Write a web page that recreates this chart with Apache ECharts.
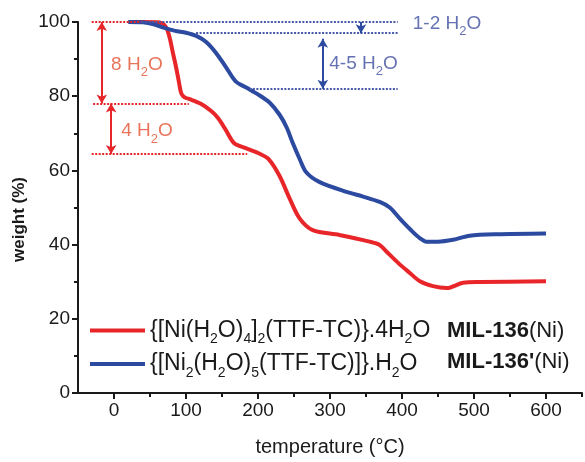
<!DOCTYPE html>
<html>
<head>
<meta charset="utf-8">
<script src="https://cdn.jsdelivr.net/npm/echarts@6/dist/echarts.min.js"></script>
<style>
  html, body { margin: 0; padding: 0; background: #fff; }
  #chart { width: 585px; height: 462px; }
</style>
</head>
<body>
<div id="chart"></div>
<script>
// TGA curves
var redTemp = [20,40,60,66,70,74,78,82,86,90,93,96,100,105,120,135,145,155,167,183,200,215,230,244,258,276,313,355,369,378,395,410,425,443,462,485,508,600];
var redWeight = [100,100,99.9,99.7,99.2,97.9,95.2,91.5,88,84,81,80,79.5,79.2,78,76,74,71,67.3,66,64.7,63,58.5,52.4,47,43.9,42.6,40.8,39.9,38.2,35,32.5,30.1,28.8,28.3,29.7,29.9,30.1];
var blueTemp = [20,40,55,70,85,100,115,128,142,155,169,185,200,216,230,240,248,258,267,285,323,345,369,383,397,412,425,434,450,471,494,532,600];
var blueWeight = [100,99.9,99.4,98.4,97.6,97.1,96.2,94.6,91.6,88,84,82.2,80.5,78.3,75,71.5,67.5,63,59.5,56.9,54.2,53,51.5,50,47,44,41.7,40.8,40.8,41.3,42.4,42.8,43];

var seriesNames = ['MIL-136(Ni)', "MIL-136'(Ni)"];
var xLabelTicks = [0,100,200,300,400,500,600];
var xMinorTicks = [50,150,250,350,450,550,650];

// water-loss guides: [fromTemp, toTemp, weight]
var redGuides = [[-31,38,100],[-29,104,78],[-31,185,64.4]];
var blueGuides = [[38,394,100],[114,394,97],[188,394,82]];
// arrows: [temp, weightFrom, weightTo]
var redArrows = [[-17,100,78],[-4,78,64.4]];
var blueArrows = [[290,95.5,82]];
var blueSmallArrow = [343,100,97];

// annotation labels
var annoTemp = [-4,10,415,299];
var annoWeight = [88.5,70.6,99.6,88.8];
var annoText = ['8 H{s|2}O','4 H{s|2}O','1-2 H{s|2}O','4-5 H{s|2}O'];
var annoColor = ['#e4502f','#e4502f','#3d4d9f','#3d4d9f'];

var formulas = {
	'MIL-136(Ni)': '{[Ni(H{s|2}O){s|4}]{s|2}(TTF-TC)}.4H{s|2}O',
	"MIL-136'(Ni)": '{[Ni{s|2}(H{s|2}O){s|5}(TTF-TC)]}.H{s|2}O'
};

var RED = '#e8262a';
var BLUE = '#2b4aa0';
var FONT = '"Liberation Sans", Arial, sans-serif';

function zip(a, b) {
	return a.map(function (v, i) { return [v, b[i]]; });
}

function guideLines(list, color) {
	return list.map(function (g) {
		return [{coord: [g[0], g[2]], symbol: 'none', lineStyle: {color: color, type: [2, 1.5], width: 2}},
			{coord: [g[1], g[2]], symbol: 'none'}];
	});
}

function arrowLines(list, color) {
	return list.map(function (a) {
		return [{coord: [a[0], a[1]], symbol: 'arrow', lineStyle: {color: color, type: 'solid', width: 2}},
			{coord: [a[0], a[2]], symbol: 'arrow'}];
	});
}

var markData = []
	.concat(guideLines(redGuides, RED))
	.concat(guideLines(blueGuides, '#4658a8'))
	.concat(arrowLines(redArrows, RED))
	.concat(arrowLines(blueArrows, BLUE));
markData.push([{coord: [blueSmallArrow[0], blueSmallArrow[1]], symbol: 'none', lineStyle: {color: BLUE, type: 'solid', width: 2}},
	{coord: [blueSmallArrow[0], blueSmallArrow[2]], symbol: 'arrow'}]);

var myChart = echarts.init(document.getElementById('chart'));

var option = {
	backgroundColor: '#fff',
	animation: false,
	textStyle: {fontFamily: FONT},
	grid: {left: 78, right: 3, top: 22, bottom: 66, containLabel: false},
	legend: [{
		orient: 'vertical',
		left: 85,
		top: 312,
		itemWidth: 55,
		itemHeight: 4,
		itemGap: 4,
		icon: 'rect',
		data: seriesNames,
		formatter: function (name) { return formulas[name]; },
		textStyle: {
			fontSize: 23, color: '#1a1a1a', fontFamily: FONT, lineHeight: 27,
			rich: {s: {fontSize: 14, padding: [18, 0, 0, 0], fontFamily: FONT, color: '#1a1a1a'}}
		}
	}, {
		orient: 'vertical',
		left: 437,
		top: 312,
		itemWidth: 0,
		itemHeight: 0,
		itemGap: 4,
		icon: 'rect',
		data: seriesNames,
		formatter: function (name) {
			var i = name.indexOf('(');
			return '{b|' + name.slice(0, i) + '}' + name.slice(i);
		},
		textStyle: {
			fontSize: 22, color: '#1a1a1a', fontFamily: FONT, lineHeight: 27,
			rich: {b: {fontSize: 22, fontWeight: 'bold', fontFamily: FONT, color: '#1a1a1a'}}
		}
	}],
	xAxis: [{
		type: 'value',
		min: -50,
		max: 650,
		name: 'temperature (°C)',
		nameLocation: 'middle',
		nameGap: 44,
		nameTextStyle: {fontSize: 20, color: '#1a1a1a', fontFamily: FONT},
		splitLine: {show: false},
		axisLine: {onZero: false, lineStyle: {color: '#1a1a1a', width: 2}},
		axisTick: {customValues: xLabelTicks, length: 6, lineStyle: {color: '#1a1a1a', width: 2}},
		axisLabel: {customValues: xLabelTicks, fontSize: 19, color: '#1a1a1a', margin: 8, fontFamily: FONT}
	}, {
		type: 'value',
		min: -50,
		max: 650,
		position: 'bottom',
		splitLine: {show: false},
		axisLine: {show: false},
		axisTick: {customValues: xMinorTicks, length: 4, lineStyle: {color: '#1a1a1a', width: 2}},
		axisLabel: {show: false}
	}],
	yAxis: {
		type: 'value',
		min: 0,
		max: 100,
		interval: 20,
		name: 'weight (%)',
		nameLocation: 'middle',
		nameGap: 50,
		nameTextStyle: {fontSize: 17, fontWeight: 'bold', color: '#1a1a1a', fontFamily: FONT, padding: [0, 24, 0, 0]},
		splitLine: {show: false},
		axisLine: {show: true, onZero: false, lineStyle: {color: '#1a1a1a', width: 2}},
		axisTick: {show: true, length: 6, lineStyle: {color: '#1a1a1a', width: 2}},
		minorTick: {show: true, splitNumber: 2, length: 4, lineStyle: {color: '#1a1a1a', width: 2}},
		axisLabel: {fontSize: 19, color: '#1a1a1a', margin: 8, fontFamily: FONT}
	},
	series: [{
		name: seriesNames[0],
		type: 'line',
		data: zip(redTemp, redWeight),
		smooth: 0.3,
		showSymbol: false,
		symbol: 'none',
		z: 3,
		color: RED,
		lineStyle: {color: RED, width: 4}
	}, {
		name: seriesNames[1],
		type: 'line',
		data: zip(blueTemp, blueWeight),
		smooth: 0.3,
		showSymbol: false,
		symbol: 'none',
		z: 3,
		color: BLUE,
		lineStyle: {color: BLUE, width: 4}
	}, {
		name: 'guides',
		type: 'line',
		data: [],
		z: 2,
		markLine: {
			silent: true,
			animation: false,
			symbolSize: [8, 9],
			label: {show: false},
			emphasis: {disabled: true},
			data: markData
		}
	}, {
		name: 'labels',
		type: 'scatter',
		symbolSize: 0,
		silent: true,
		z: 4,
		data: annoTemp.map(function (t, i) {
			return {
				value: [t, annoWeight[i]],
				label: {
					show: true,
					position: 'right',
					distance: 0,
					formatter: annoText[i],
					fontSize: 19,
					fontFamily: FONT,
					color: annoColor[i],
					rich: {s: {fontSize: 13, padding: [16, 0, 0, 0], fontFamily: FONT, color: annoColor[i]}}
				}
			};
		})
	}]
};

myChart.setOption(option);
</script>
</body>
</html>
